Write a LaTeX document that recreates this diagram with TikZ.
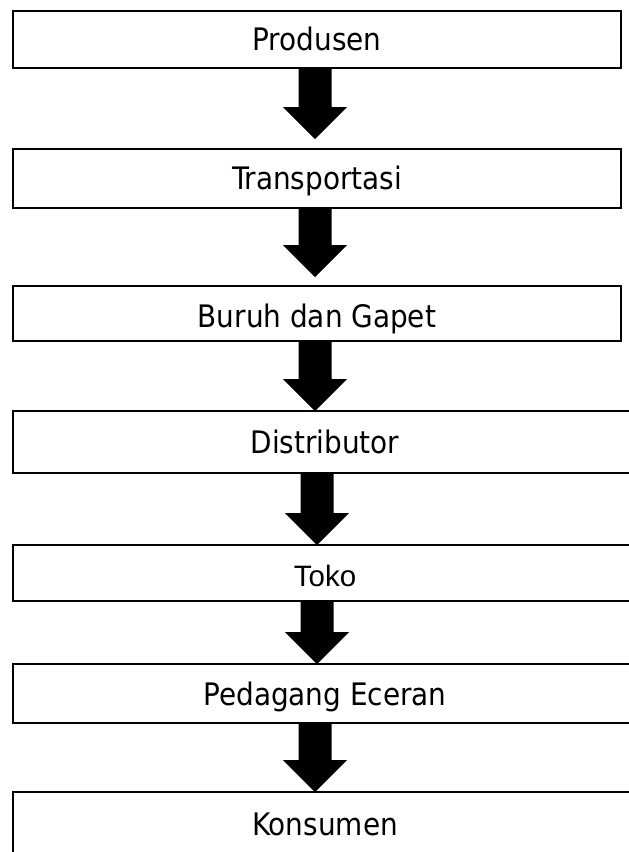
\documentclass[tikz,border=0pt]{standalone}
\usepackage{fontspec}
\setmainfont{DejaVu Sans Condensed}
\newfontfamily\arialfont{Liberation Sans}
\usetikzlibrary{calc}
\tikzset{
  box/.style={draw=black, line width=2.5pt, rectangle, inner sep=0pt, outer sep=0pt,
    minimum width=#1, text height=22.5pt, text depth=0pt,
    font=\fontsize{31}{36}\selectfont},
  box/.default=608pt,
  arrowfill/.style={fill=black},
}
\newcommand\fatarrow[4]{% from, to, dx, gap
  \path ($(#1.south)+(#3,0)$) coordinate (s-#1);
  \path ($(s-#1 |- #2.north)+(0,-#4)$) coordinate (t-#1);
  \fill[arrowfill] ($(s-#1)+(-16.5,0)$) -- ($(s-#1)+(16.5,0)$) -- ($(t-#1)+(16.5,-32)$)
    -- ($(t-#1)+(32,-32)$) -- (t-#1) -- ($(t-#1)+(-32,-32)$) -- ($(t-#1)+(-16.5,-32)$) -- cycle;
}
\begin{document}
\begin{tikzpicture}[x=1pt,y=-1pt]
\useasboundingbox (0,0) rectangle (629,852);
\clip (0,0) rectangle (629,852);
\node[box, minimum height=57pt] (b1) at (317,39.5) {Produsen};
\node[box, minimum height=59pt] (b2) at (317,178.5) {Transportasi};
\node[box, minimum height=55pt, text height=28.5pt] (b3) at (317,313.5) {Buruh dan Gapet};
\node[box=624pt, minimum height=62pt] (b4) at (325,442) {Distributor};
\node[box=624pt, minimum height=56pt, text height=26pt, font=\arialfont\fontsize{29.5}{34}\selectfont] (b5) at (325,573) {Toko};
\node[box=624pt, minimum height=59pt, text height=24pt] (b6) at (325,693.5) {Pedagang Eceran};
\node[box=624pt, minimum height=64pt] (b7) at (325,824) {Konsumen};
\fatarrow{b1}{b2}{-2}{10}
\fatarrow{b2}{b3}{-2}{9}
\fatarrow{b3}{b4}{-2}{0}
\fatarrow{b4}{b5}{-8}{0}
\fatarrow{b5}{b6}{-8}{0}
\fatarrow{b6}{b7}{-10}{0}
\end{tikzpicture}
\end{document}
